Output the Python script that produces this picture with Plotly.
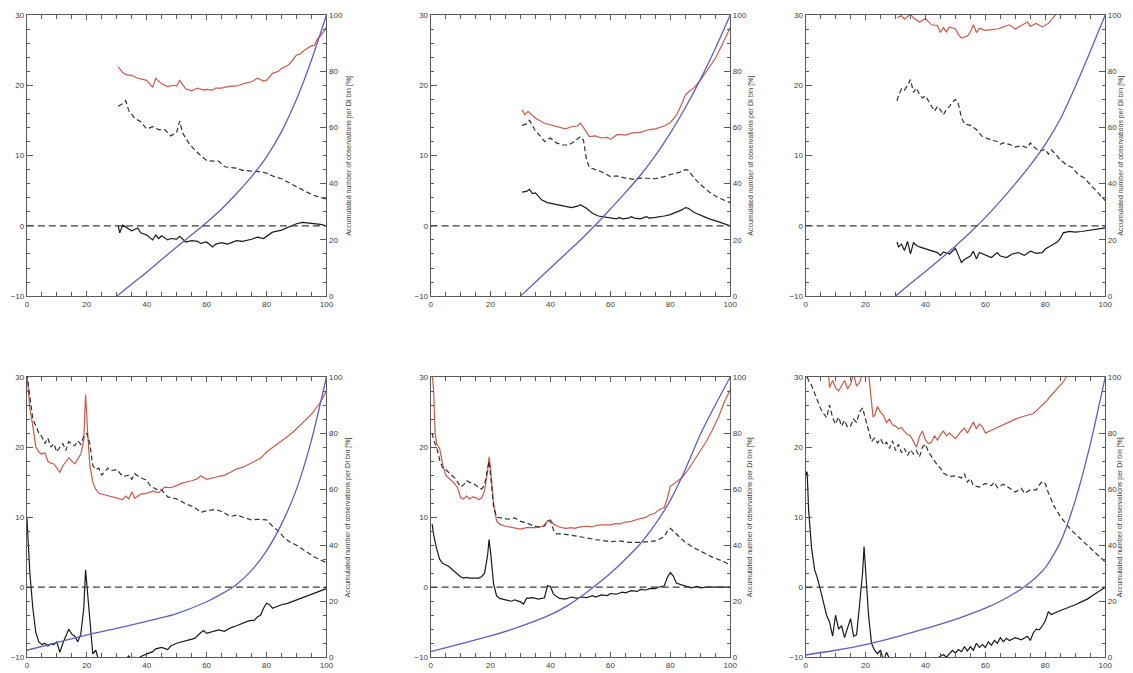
import plotly.graph_objects as go

# ---------------- data ----------------
# Panel 1
p1_red_x = [30.5,32,33,35,37,40,42,43,45,47,49,50,51,53,55,57,59,60,62,63,65,67,70,72,73,75,77,79,80,82,84,85,87,88,90,91,93,95,96,97,98,100]
p1_red_y = [22.6,21.8,21.5,21.4,21.0,20.7,19.7,21.0,20.2,19.8,20.0,19.9,20.7,19.5,19.2,19.6,19.3,19.4,19.3,19.6,19.6,19.8,19.9,20.2,20.3,20.5,21.0,20.6,20.7,21.7,22.0,22.4,22.8,23.2,24.3,24.4,25.1,25.6,25.7,26.6,27.0,28.3]
p1_dash_x = [30.5,32,33,34,36,38,40,42,44,46,48,50,51,52,54,56,58,60,62,64,66,68,70,72,75,78,80,82,85,88,90,93,96,100]
p1_dash_y = [17.0,17.4,17.8,16.4,15.3,14.8,13.8,14.1,13.7,13.7,12.8,13.3,14.9,13.2,11.8,10.8,10.0,9.3,9.2,9.2,8.4,8.3,8.2,7.9,7.8,7.7,7.5,7.1,6.7,6.0,5.5,4.9,4.3,3.8]
p1_sol_x = [30.5,31,32,34,35,37,38,40,42,43,44,45,47,48,50,51,53,55,57,58,60,62,63,65,67,70,72,75,77,79,80,82,85,88,90,92,95,98,100]
p1_sol_y = [0.0,-1.0,0.1,-0.5,-0.7,-0.3,-1.0,-1.3,-2.0,-1.3,-1.8,-1.4,-2.0,-1.8,-1.9,-1.5,-2.3,-2.1,-2.2,-2.5,-2.3,-3.0,-2.6,-2.4,-2.6,-2.1,-2.2,-1.9,-1.6,-1.8,-1.5,-0.9,-0.6,-0.1,0.3,0.5,0.4,0.2,0.0]
p1_cum_x = [30,35,40,45,50,55,60,65,70,75,80,85,90,95,100]
p1_cum_y = [0,4.3,8.5,13,17.5,21.8,26.2,31,36.5,42.5,49.5,58.5,70,84,100]

# Panel 2
p2_red_x = [30.5,31.5,32.5,35,38,40,43,45,47,49,50,51,52,53,55,57,59,60,62,63,65,67,70,73,75,78,80,82,84,85,86,88,90,92,95,97,100]
p2_red_y = [16.5,15.8,16.3,15.3,14.6,14.4,14.0,13.8,14.1,14.2,14.6,14.0,13.3,12.7,12.8,12.5,12.6,12.3,12.9,13.0,12.9,13.2,13.3,13.7,13.8,14.2,14.7,15.7,17.5,18.6,19.0,19.7,20.7,22.0,23.8,25.5,28.2]
p2_dash_x = [30.5,32,33,35,37,38,40,42,44,46,48,50,51,52,53,55,57,60,62,65,68,70,73,75,78,80,83,85,86,88,90,93,96,100]
p2_dash_y = [14.3,14.5,15.0,13.5,12.6,12.0,12.5,11.8,11.5,11.5,12.0,12.7,12.2,9.5,8.3,8.0,7.7,7.0,7.1,6.8,6.6,6.8,6.7,6.7,7.0,7.3,7.6,8.0,7.9,6.8,5.9,4.8,4.0,3.3]
p2_sol_x = [30.5,32,33,34,35,37,39,41,43,45,47,49,50,52,54,56,58,60,62,63,64,66,67,68,70,72,73,75,77,78,80,82,84,85,86,88,90,93,96,100]
p2_sol_y = [4.8,4.9,5.2,4.6,4.7,3.7,3.3,3.1,3.0,2.7,2.6,2.8,3.0,2.5,1.8,1.4,1.3,1.2,1.0,1.2,1.0,1.1,1.3,1.1,1.0,1.3,1.1,1.2,1.3,1.4,1.6,1.9,2.3,2.6,2.5,1.9,1.5,1.0,0.6,0.0]
p2_cum_x = [30,35,40,45,50,55,60,65,70,75,80,85,90,95,100]
p2_cum_y = [0,5,10,15,20,25.3,31,36.8,43,50,58,67,77,88,100]

# Panel 3
p3_red_x = [30.5,32,33,35,36,38,40,42,44,45,46,47,48,50,51,52,54,55,56,57,58,60,62,64,66,68,70,72,74,75,77,79,81,83,84,86,90,95,100]
p3_red_y = [29.6,29.9,29.4,30.1,29.6,29.0,29.5,28.6,28.5,27.5,28.2,27.6,28.3,28.0,27.2,26.7,27.0,27.6,28.6,27.5,28.1,27.8,27.9,28.0,28.3,28.6,28.0,28.5,29.0,28.4,28.8,28.3,28.8,29.8,30.3,31.0,32.5,34.0,36.0]
p3_dash_x = [30.5,31,32,33,34,35,36,37,38,39,40,41,42,43,44,45,46,47,48,49,50,51,52,53,55,57,59,60,62,64,65,66,68,70,72,74,75,76,78,80,81,82,83,85,87,89,91,93,95,97,100]
p3_dash_y = [17.8,18.5,19.5,19.3,20.0,20.8,19.0,19.6,18.7,18.2,18.5,17.8,17.2,16.3,17.0,16.5,15.8,16.6,17.0,17.6,18.0,17.3,15.4,14.5,14.3,13.7,12.7,12.5,12.2,12.0,11.6,11.8,11.6,11.2,11.4,11.1,11.8,11.3,10.6,10.9,10.2,10.8,10.4,9.4,8.7,8.3,7.3,6.8,5.9,4.9,3.6]
p3_sol_x = [30.5,31,32,33,34,35,36,37,38,40,42,44,45,46,48,50,51,52,53,55,56,57,58,60,62,64,65,67,69,71,73,75,77,79,80,82,84,85,86,88,90,92,95,98,100]
p3_sol_y = [-2.3,-3.0,-2.6,-3.5,-2.2,-4.0,-2.4,-2.8,-3.0,-3.3,-3.6,-3.8,-4.2,-3.7,-4.0,-3.2,-4.2,-5.2,-4.8,-4.3,-3.6,-4.7,-3.8,-4.2,-4.5,-3.8,-4.3,-4.5,-4.0,-3.8,-4.2,-3.6,-3.9,-3.8,-3.3,-2.8,-2.3,-1.8,-1.0,-0.8,-0.9,-0.8,-0.6,-0.4,-0.3]
p3_cum_x = [30,35,40,45,50,55,60,65,70,75,80,85,90,95,100]
p3_cum_y = [0,4.5,8.8,13.2,17.8,22.7,28,33.8,40,46.6,54,63,74.5,87,100]

# Panel 4
p4_red_x = [0,1,2,3,4,5,6,7,8,9,10,11,12,13,14,15,16,17,18,19,19.6,20.3,21,22,23,24,25,27,30,32,33,34,35,36,38,40,42,44,46,48,50,52,55,57,58,60,63,66,68,70,72,75,78,80,83,86,89,92,95,98,100]
p4_red_y = [30.5,25.5,23.0,20.0,19.3,19.0,19.2,18.0,17.7,17.6,17.0,16.4,17.3,17.9,18.5,18.0,17.6,18.3,19.0,21.0,27.5,22.0,17.5,15.0,14.0,13.4,13.3,13.0,12.8,12.5,13.0,12.6,13.6,12.7,13.3,13.4,13.7,13.5,14.3,14.2,14.5,14.9,15.2,15.5,15.9,15.4,15.7,16.0,16.4,16.9,17.1,17.7,18.4,19.3,20.2,21.2,22.2,23.4,24.7,26.4,28.0]
p4_dash_x = [0,1,2,3,4,5,6,7,8,9,10,11,12,13,14,15,16,17,18,19,20,21,22,23,24,25,26,27,28,30,32,34,35,36,38,40,41,43,45,47,50,53,56,58,60,63,65,68,70,73,75,77,80,82,84,86,88,90,93,96,100]
p4_dash_y = [30.5,27.0,24.0,23.0,22.0,21.5,20.5,21.3,20.0,20.5,19.3,20.0,20.5,19.5,20.8,20.4,20.2,20.9,20.4,21.5,22.0,20.5,17.4,16.8,17.0,16.0,16.5,17.0,16.6,16.8,15.8,16.0,15.4,16.2,15.6,15.3,14.6,14.0,13.9,12.9,12.6,11.9,11.4,10.7,10.9,11.1,10.8,10.1,10.3,9.9,9.6,9.7,9.6,8.7,8.0,7.0,6.4,6.0,5.1,4.3,3.5]
p4_sol_x = [0,1,2,3,4,5,6,7,8,9,10,11,12,13,14,15,16,17,18,19,19.6,20.3,21,22,23,24,26,28,30,32,34,35,36,37,38,40,42,43,45,47,48,50,52,54,56,58,59,60,62,64,66,68,70,72,74,76,77,78,79,80,81,82,83,85,87,90,93,96,100]
p4_sol_y = [10.0,2.0,-3.0,-6.5,-7.8,-8.2,-8.0,-8.4,-8.1,-8.2,-7.8,-9.3,-8.0,-7.0,-6.0,-6.7,-7.0,-7.8,-6.7,-3.0,2.5,-1.0,-5.0,-9.5,-9.0,-10.5,-10.5,-11.0,-11.0,-10.8,-9.8,-10.4,-10.0,-10.3,-9.9,-9.5,-9.2,-8.8,-8.6,-8.9,-8.4,-8.0,-7.8,-7.5,-7.3,-6.5,-6.2,-6.6,-6.4,-6.1,-6.3,-5.8,-5.5,-5.2,-4.8,-4.7,-4.2,-4.0,-3.0,-2.3,-2.5,-3.0,-2.8,-2.5,-2.3,-1.8,-1.3,-0.8,-0.2]
p4_cum_x = [0,10,20,30,40,50,60,65,70,75,80,85,90,95,100]
p4_cum_y = [2.5,5.2,8,10.3,12.8,15.6,19.8,22.6,26,31,38,47.5,60,77.5,100]

# Panel 5
p5_red_x = [0.5,1,1.5,2,3,4,5,6,7,8,9,10,11,12,13,14,15,16,17,18,19,19.5,20,21,22,23,25,27,30,32,35,38,39,40,41,43,45,47,48,50,52,54,55,57,60,62,63,65,67,70,72,73,75,76,78,79,80,82,84,86,88,90,92,94,96,98,100]
p5_red_y = [30.5,28.0,22.0,20.5,19.8,17.6,16.0,15.6,15.2,14.8,14.2,12.8,12.6,13.0,12.6,12.9,12.8,12.5,12.7,13.8,16.5,18.6,17.0,12.0,9.5,9.0,8.7,8.5,8.3,8.5,8.5,8.7,9.5,9.6,9.0,8.6,8.4,8.5,8.4,8.6,8.7,8.6,8.8,8.9,8.9,9.1,9.0,9.3,9.4,9.8,10.0,10.3,10.6,11.0,11.4,12.7,14.4,15.0,15.7,16.8,18.1,19.5,20.8,22.4,24.2,26.4,28.2]
p5_dash_x = [0.5,1,2,3,4,5,6,7,8,9,10,11,12,13,14,15,16,17,18,19,19.5,20,21,22,24,26,28,30,32,34,36,38,39,40,41,42,44,46,50,55,60,63,66,70,75,78,79,80,81,83,85,88,91,94,97,100]
p5_dash_y = [22.0,21.0,20.0,18.2,17.0,16.8,16.4,16.0,15.6,15.0,14.3,14.6,15.2,15.0,14.8,14.6,14.2,14.0,14.6,17.0,18.0,16.0,11.5,10.0,9.9,9.7,9.9,9.4,9.2,8.8,8.6,8.8,9.5,9.4,8.2,7.6,7.6,7.5,7.2,6.8,6.5,6.6,6.4,6.4,6.6,7.2,8.0,8.4,8.0,7.1,6.4,5.6,4.9,4.3,3.8,3.2]
p5_sol_x = [0.5,1,2,3,4,5,6,7,8,9,10,11,12,13,14,15,16,17,18,19,19.5,20,21,22,23,25,27,28,30,31,32,34,36,38,39,40,41,43,45,47,49,50,52,54,55,57,59,60,62,64,65,67,69,70,72,73,75,76,78,79,80,81,82,84,86,87,89,90,92,95,97,100]
p5_sol_y = [9.0,7.5,5.5,4.0,3.4,3.2,3.0,2.6,2.2,1.8,1.5,1.3,1.4,1.3,1.3,1.4,1.3,1.5,2.0,4.5,6.8,5.0,0.5,-1.2,-1.6,-1.8,-2.0,-1.8,-2.1,-2.4,-1.6,-1.5,-1.7,-1.5,0.2,0.1,-1.0,-1.6,-1.7,-1.4,-1.6,-1.4,-1.5,-1.2,-1.4,-1.1,-1.2,-0.9,-1.0,-0.7,-0.8,-0.5,-0.6,-0.3,-0.4,-0.2,-0.2,0.0,0.2,1.4,2.1,1.6,0.6,0.3,0.1,-0.1,0.1,-0.1,0.0,0.0,-0.1,0.0]
p5_cum_x = [0,10,20,30,40,45,50,55,60,65,70,75,80,85,90,95,100]
p5_cum_y = [2,4.8,7.6,11,15.2,18,21.5,25.6,30,35,40.5,47.5,56,67,79.5,90,100]

# Panel 6
p6_red_x = [0,5,7.5,8,9,10,11,12,13,14,15,16,17,18,19,20,21,22.5,23,24,25,26,27,28,29,30,31,32,33,34,35,36,37,38,39,40,41,42,43,44,45,46,47,48,50,52,53,54,55,56,57,58,59,60,62,64,66,68,70,72,74,76,78,80,82,84,86,87,88,90,95,100]
p6_red_y = [36.0,33.0,31.0,28.5,29.5,28.5,28.0,28.8,29.5,28.3,29.0,30.5,28.7,29.2,30.5,31.0,30.5,24.3,24.5,25.8,25.0,24.5,23.5,24.0,23.2,23.0,22.6,22.8,22.2,21.8,21.6,20.8,20.0,21.5,22.3,21.0,20.5,20.7,21.6,21.0,21.8,22.3,21.6,22.0,21.2,22.3,22.7,22.0,22.8,23.6,22.6,23.3,22.9,22.0,22.4,22.8,23.3,23.7,24.0,24.3,24.6,24.8,25.6,26.4,27.4,28.3,29.3,30.0,31.0,32.0,35.0,38.0]
p6_dash_x = [0.5,1,2,3,4,5,6,7,8,9,10,11,12,13,14,15,16,17,18,19,20,21,22,23,24,25,26,27,28,29,30,31,32,33,34,35,36,37,38,39,40,41,42,43,44,45,46,48,50,52,53,54,55,56,58,60,62,63,64,66,68,70,72,73,75,77,78,79,80,81,83,85,87,89,91,93,95,97,100]
p6_dash_y = [30.0,29.5,28.8,27.7,26.5,25.5,24.8,24.2,26.0,24.2,23.3,24.3,23.0,23.8,22.8,23.0,24.0,23.5,25.0,25.6,24.0,22.5,20.8,21.3,20.6,21.2,20.3,20.7,19.8,20.9,19.5,20.4,19.2,19.8,18.8,19.6,19.0,19.5,18.6,20.0,20.4,19.3,18.6,18.0,17.4,17.0,16.3,15.8,15.9,15.6,16.2,15.0,15.5,14.5,14.3,14.8,14.5,15.0,14.2,14.7,14.2,13.6,14.1,13.4,13.9,13.9,14.6,15.1,14.8,13.5,11.5,10.1,9.0,8.0,7.2,6.4,5.6,4.7,3.6]
p6_sol_x = [0,0.5,1,2,3,4,5,6,7,8,9,10,11,12,13,14,15,16,17,18,19,19.5,20,21,22,23,24,25,26,27,28,29,30,35,40,42,44,45,46,47,48,49,50,51,52,53,54,55,56,57,58,59,60,61,62,63,64,65,66,67,68,70,72,74,75,76,77,78,79,80,81,82,84,86,88,90,92,94,96,98,100]
p6_sol_y = [16.0,16.5,11.0,5.5,2.5,1.2,-0.5,-2.5,-4.0,-5.0,-7.0,-4.0,-6.0,-5.5,-7.2,-5.8,-4.5,-7.0,-6.8,-2.5,2.0,5.8,3.0,-4.0,-8.0,-9.0,-9.5,-9.0,-10.5,-9.3,-10.2,-11.0,-11.0,-11.5,-10.8,-10.2,-10.1,-9.8,-9.6,-10.0,-9.5,-9.0,-9.4,-8.9,-9.2,-8.5,-9.1,-8.5,-9.0,-8.0,-8.6,-8.2,-8.6,-7.8,-8.3,-7.6,-8.0,-7.2,-7.8,-7.3,-7.6,-7.2,-7.5,-7.0,-7.6,-6.5,-6.0,-6.1,-5.5,-4.8,-3.5,-3.9,-3.5,-3.2,-2.9,-2.5,-2.1,-1.7,-1.1,-0.6,0.0]
p6_cum_x = [0,10,20,30,40,50,60,65,70,75,80,85,90,95,100]
p6_cum_y = [0.8,2.5,4.5,7.2,10.2,13.5,17.5,20,23,26.8,32,41,56,76,100]

right_title = "Accumulated number of observations per DI bin [%]"

panels = [
    (p1_red_x, p1_red_y, p1_dash_x, p1_dash_y, p1_sol_x, p1_sol_y, p1_cum_x, p1_cum_y),
    (p2_red_x, p2_red_y, p2_dash_x, p2_dash_y, p2_sol_x, p2_sol_y, p2_cum_x, p2_cum_y),
    (p3_red_x, p3_red_y, p3_dash_x, p3_dash_y, p3_sol_x, p3_sol_y, p3_cum_x, p3_cum_y),
    (p4_red_x, p4_red_y, p4_dash_x, p4_dash_y, p4_sol_x, p4_sol_y, p4_cum_x, p4_cum_y),
    (p5_red_x, p5_red_y, p5_dash_x, p5_dash_y, p5_sol_x, p5_sol_y, p5_cum_x, p5_cum_y),
    (p6_red_x, p6_red_y, p6_dash_x, p6_dash_y, p6_sol_x, p6_sol_y, p6_cum_x, p6_cum_y),
]

# ---------------- layout geometry (page pixels) ----------------
W, H = 1133, 673
OFF = 8  # default body margin of the html page shifts the figure by 8 px
col_px = [(25, 327), (432, 734), (810, 1112)]
row_px = [(11, 296), (378, 662)]
title_px = [349, 754, 1127]   # centre of the rotated right-axis title

RED = "rgb(200,90,75)"
BLUE = "rgb(95,95,190)"
BLACK = "rgb(25,25,25)"
AXC = "rgb(90,90,90)"
FONT = dict(family="Liberation Sans, Arial, sans-serif", size=8, color="rgb(60,60,60)")

fig = go.Figure()
layout = dict(width=W, height=H, margin=dict(l=0, r=0, t=0, b=0),
              paper_bgcolor="white", plot_bgcolor="white", showlegend=False,
              font=FONT)
shapes = []
annotations = []

for i, (rx, ry, dx, dy, sx, sy, cx, cy) in enumerate(panels):
    n = i + 1
    r, c = divmod(i, 3)
    xa = "x" if n == 1 else f"x{n}"
    ya = "y" if n == 1 else f"y{2*n-1}"
    yb = f"y{2*n}"
    x0, x1 = col_px[c][0] - OFF, col_px[c][1] - OFF
    y0, y1 = row_px[r][0] - OFF, row_px[r][1] - OFF
    xdom = [x0 / W, x1 / W]
    ydom = [1 - y1 / H, 1 - y0 / H]

    layout["xaxis" if n == 1 else f"xaxis{n}"] = dict(
        domain=xdom, anchor=ya, range=[0, 100], tick0=0, dtick=20,
        ticks="inside", ticklen=5, tickcolor=AXC, showline=True, linecolor=AXC,
        linewidth=1, mirror="ticks", showgrid=False, zeroline=False,
        minor=dict(dtick=5, ticks="inside", ticklen=4, tickcolor=AXC, showgrid=False),
        tickfont=FONT)
    layout["yaxis" if n == 1 else f"yaxis{2*n-1}"] = dict(
        domain=ydom, anchor=xa, range=[-10, 30], tick0=0, dtick=10,
        ticks="inside", ticklen=6, tickcolor=AXC, showline=True, linecolor=AXC,
        linewidth=1, showgrid=False, zeroline=False,
        minor=dict(dtick=2, ticks="inside", ticklen=3, tickcolor=AXC, showgrid=False),
        tickfont=FONT)
    layout[f"yaxis{2*n}"] = dict(
        overlaying=ya, anchor=xa, side="right", range=[0, 100], tick0=0, dtick=20,
        ticks="inside", ticklen=6, tickcolor=AXC, showline=True, linecolor=AXC,
        linewidth=1, showgrid=False, zeroline=False,
        minor=dict(dtick=5, ticks="inside", ticklen=3, tickcolor=AXC, showgrid=False),
        tickfont=FONT)

    annotations.append(dict(text=right_title, xref="paper", yref="paper",
                            x=(title_px[c] - OFF) / W, y=(ydom[0] + ydom[1]) / 2,
                            textangle=-90, showarrow=False, xanchor="center", yanchor="middle",
                            borderpad=0,
                            font=dict(family=FONT["family"], size=7, color="rgb(60,60,60)")))

    shapes.append(dict(type="line", xref=xa, yref=ya, x0=0, x1=100, y0=0, y1=0,
                       line=dict(color="rgb(60,60,60)", width=1.2, dash="7px,4px")))

    fig.add_trace(go.Scatter(x=rx, y=ry, xaxis=xa, yaxis=ya, mode="lines",
                             line=dict(color=RED, width=1.2)))
    fig.add_trace(go.Scatter(x=dx, y=dy, xaxis=xa, yaxis=ya, mode="lines",
                             line=dict(color="rgb(50,50,50)", width=1.2, dash="5px,3px")))
    fig.add_trace(go.Scatter(x=sx, y=sy, xaxis=xa, yaxis=ya, mode="lines",
                             line=dict(color=BLACK, width=1.2)))
    fig.add_trace(go.Scatter(x=cx, y=cy, xaxis=xa, yaxis=yb, mode="lines",
                             line=dict(color=BLUE, width=1.3, shape="spline", smoothing=0.6)))

layout["shapes"] = shapes
layout["annotations"] = annotations
fig.update_layout(**layout)
fig.write_html("out.html")
